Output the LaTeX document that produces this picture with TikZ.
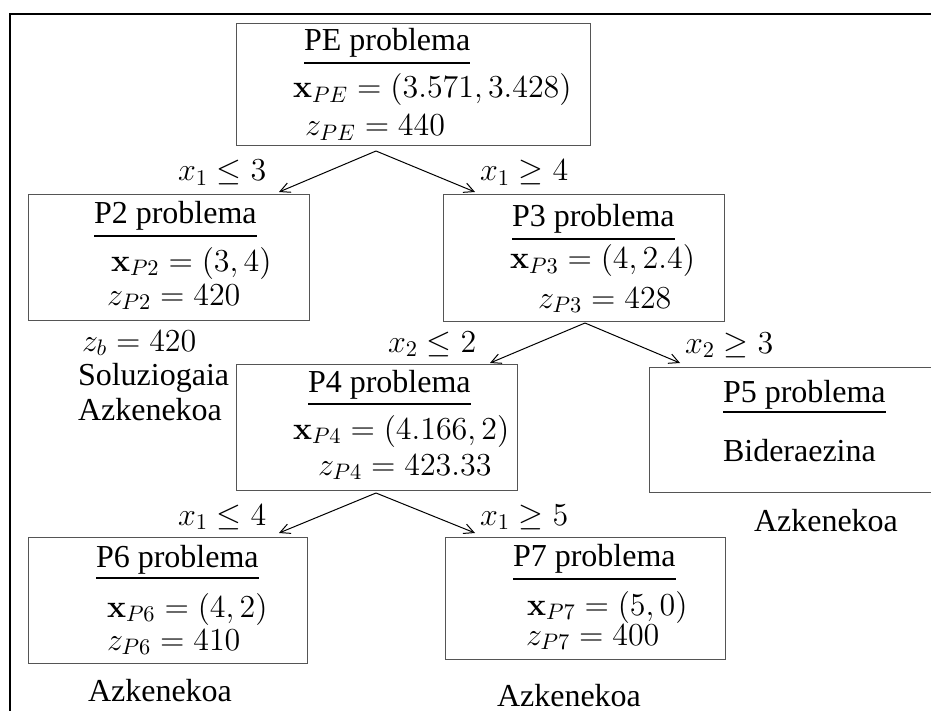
\RequirePackage{fix-cm}
\documentclass[tikz,border=0pt]{standalone}
\usepackage[no-math]{fontspec}
\setmainfont{Liberation Serif}
\usepackage{amsmath}
\usetikzlibrary{arrows.meta,fit}
\definecolor{boxgray}{HTML}{555555}
\begin{document}
\begin{tikzpicture}[x=0.5pt,y=-0.5pt,
  every node/.style={font=\fontsize{16}{19}\selectfont, inner sep=0pt, outer sep=0pt},
  lbl/.style={anchor=base west},
  box/.style={draw=boxgray, line width=0.5pt, inner sep=0pt},
  ul/.style={line width=1pt},
  arr/.style={line width=0.5pt, -{Straight Barb[length=5pt,width=5pt]}},
  frameline/.style={line width=0.9pt}]
\useasboundingbox (0,0) rectangle (931,711);
\clip (0,0) rectangle (931,711);
% frame
\draw[frameline] (10,712) -- (10,14) -- (932,14);

% boxes
\node[box, fit={(236,24) (590,146)}] (pe) {};
\node[box, fit={(28,195) (309,320)}] (p2) {};
\node[box, fit={(443,195) (724,321)}] (p3) {};
\node[box, fit={(236,364) (517,490)}] (p4) {};
\node[box, fit={(649,367) (945,492)}] (p5) {};
\node[box, fit={(28,537) (307,663)}] (p6) {};
\node[box, fit={(445,537) (725,659)}] (p7) {};

% PE
\node[lbl] (tpe) at (304,51) {PE problema};
\draw[ul] ([yshift=-6pt]tpe.base west) -- ([yshift=-6pt]tpe.base east);
\node[lbl] (xpe) at (293,98) {$\mathbf{x}_{PE} = (3.571, 3.428)$};
\node[lbl] (zpe) at (305,136) {$z_{PE} = 440$};
% P2
\node[lbl] (tp2) at (94,224) {P2 problema};
\draw[ul] ([yshift=-6pt]tp2.base west) -- ([yshift=-6pt]tp2.base east);
\node[lbl] (xp2) at (111,271) {$\mathbf{x}_{P2} = (3,4)$};
\node[lbl] (zp2) at (107,305) {$z_{P2} = 420$};
% P3
\node[lbl] (tp3) at (512,227) {P3 problema};
\draw[ul] ([yshift=-6pt]tp3.base west) -- ([yshift=-6pt]tp3.base east);
\node[lbl] (xp3) at (510,269) {$\mathbf{x}_{P3} = (4,2.4)$};
\node[lbl] (zp3) at (538,308) {$z_{P3} = 428$};
% P4
\node[lbl] (tp4) at (308,392) {P4 problema};
\draw[ul] ([yshift=-6pt]tp4.base west) -- ([yshift=-6pt]tp4.base east);
\node[lbl] (xp4) at (293,439) {$\mathbf{x}_{P4} = (4.166,2)$};
\node[lbl] (zp4) at (318,475) {$z_{P4} = 423.33$};
% P5
\node[lbl] (tp5) at (723,402) {P5 problema};
\draw[ul] ([yshift=-5pt]tp5.base west) -- ([yshift=-5pt]tp5.base east);
\node[lbl] (bp5) at (723,461) {Bideraezina};
% P6
\node[lbl] (tp6) at (96,567) {P6 problema};
\draw[ul] ([yshift=-5.5pt]tp6.base west) -- ([yshift=-5.5pt]tp6.base east);
\node[lbl] (xp6) at (107,617) {$\mathbf{x}_{P6} = (4,2)$};
\node[lbl] (zp6) at (107,650) {$z_{P6} = 410$};
% P7
\node[lbl] (tp7) at (513,566) {P7 problema};
\draw[ul] ([yshift=-6.5pt]tp7.base west) -- ([yshift=-6.5pt]tp7.base east);
\node[lbl] (xp7) at (527,615) {$\mathbf{x}_{P7} = (5,0)$};
\node[lbl] (zp7) at (526,645) {$z_{P7} = 400$};

% branch labels
\node[lbl] (b1) at (178,181) {$x_1 \le 3$};
\node[lbl] (b2) at (480,181) {$x_1 \ge 4$};
\node[lbl] (b3) at (388,352) {$x_2 \le 2$};
\node[lbl] (b4) at (685,353) {$x_2 \ge 3$};
\node[lbl] (b5) at (178,525) {$x_1 \le 4$};
\node[lbl] (b6) at (480,525) {$x_1 \ge 5$};

% side notes
\node[lbl] (zb) at (82,351) {$z_b = 420$};
\node[lbl] (sol) at (78,385) {Soluziogaia};
\node[lbl] (az2) at (78,420) {Azkenekoa};
\node[lbl] (az5) at (754,531) {Azkenekoa};
\node[lbl] (az6) at (88,701) {Azkenekoa};
\node[lbl] (az7) at (497,706) {Azkenekoa};

% connectors
\coordinate (pe-o) at (376,151);
\coordinate (p2-i) at (279,192);
\coordinate (p3-i) at (475,192);
\coordinate (p3-o) at (585,323);
\coordinate (p4-i) at (490,363);
\coordinate (p5-i) at (680,363);
\coordinate (p4-o) at (376,493);
\coordinate (p6-i) at (279,533);
\coordinate (p7-i) at (475,533);
\draw[arr] (pe-o) -- (p2-i);
\draw[arr] (pe-o) -- (p3-i);
\draw[arr] (p3-o) -- (p4-i);
\draw[arr] (p3-o) -- (p5-i);
\draw[arr] (p4-o) -- (p6-i);
\draw[arr] (p4-o) -- (p7-i);
\end{tikzpicture}
\end{document}
